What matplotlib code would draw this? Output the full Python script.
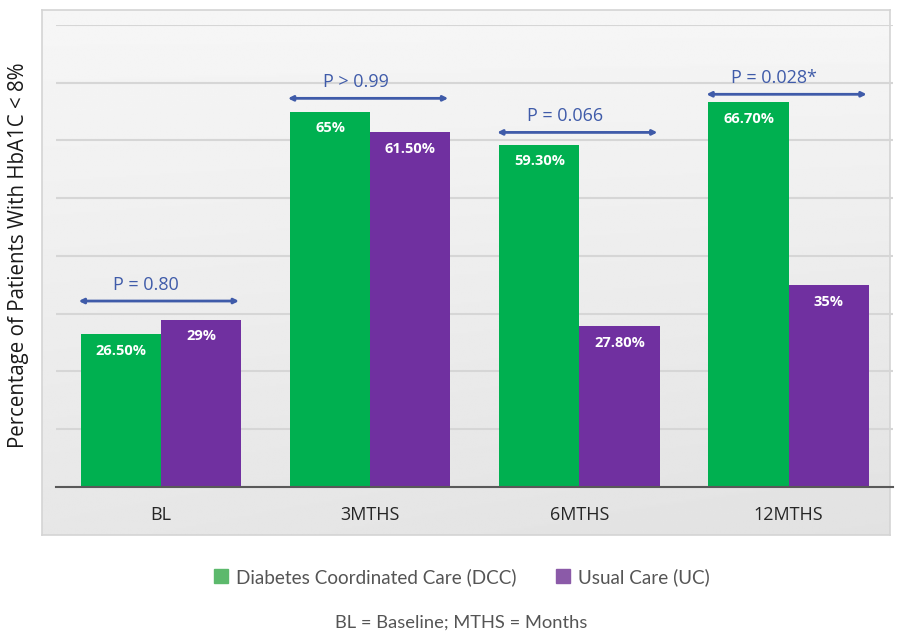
import numpy as np
import matplotlib
matplotlib.use("Agg")
import matplotlib.pyplot as plt
from matplotlib.patches import Patch

# data
categories = ["BL", "3MTHS", "6MTHS", "12MTHS"]
dcc_values = [26.5, 65.0, 59.3, 66.7]
uc_values = [29.0, 61.5, 27.8, 35.0]
dcc_labels = ["26.50%", "65%", "59.30%", "66.70%"]
uc_labels = ["29%", "61.50%", "27.80%", "35%"]
p_texts = ["P = 0.80", "P > 0.99", "P = 0.066", "P = 0.028*"]
p_levels = [32.2, 67.3, 61.4, 68.0]

GREEN = "#00b050"
PURPLE = "#7030a0"
PBLUE = "#3f5ba9"

plt.rcParams["font.family"] = ["Open Sans", "DejaVu Sans"]

fig = plt.figure(figsize=(8.98, 6.33), dpi=100)

# gray panel behind the chart
bg = fig.add_axes([0.0468, 0.1548, 0.944, 0.829])
grad = np.linspace(0, 1, 256)
gx, gy = np.meshgrid(grad, grad)
bg.imshow(0.965 - 0.06 * gy - 0.02 * gx * gy, cmap="gray", vmin=0, vmax=1,
          aspect="auto", extent=[0, 1, 0, 1], origin="upper")
bg.set_xticks([])
bg.set_yticks([])
for s in bg.spines.values():
    s.set_color("#d4d4d4")
    s.set_linewidth(1.2)

ax = fig.add_axes([0.0627, 0.2307, 0.932, 0.7298])
ax.set_facecolor("none")

x = np.arange(len(categories))
w = 0.383
ax.bar(x - w / 2, dcc_values, w, color=GREEN, zorder=3)
ax.bar(x + w / 2, uc_values, w, color=PURPLE, zorder=3)

for i in range(len(categories)):
    ax.text(x[i] - w / 2, dcc_values[i] - 2.9, dcc_labels[i], ha="center", va="center",
            color="white", fontsize=10.5, fontweight="bold", zorder=4)
    ax.text(x[i] + w / 2, uc_values[i] - 2.9, uc_labels[i], ha="center", va="center",
            color="white", fontsize=10.5, fontweight="bold", zorder=4)
    ax.annotate("", xy=(x[i] - w - 0.01, p_levels[i]), xytext=(x[i] + w - 0.01, p_levels[i]),
                arrowprops=dict(arrowstyle="<|-|>", color=PBLUE, lw=2,
                                mutation_scale=7, shrinkA=0, shrinkB=0), zorder=5)
    ax.text(x[i] - 0.07, p_levels[i] + 1.2, p_texts[i], ha="center", va="bottom",
            color=PBLUE, fontsize=13, zorder=5)

ax.set_xlim(-0.5, 3.5)
ax.set_ylim(0, 80)
ax.set_yticks(np.arange(10, 81, 10))
ax.yaxis.grid(True, color="#d6d6d6", lw=1.5, zorder=0)
ax.tick_params(axis="y", length=0, labelleft=False)
ax.tick_params(axis="x", length=0, pad=14, labelsize=13, labelcolor="#262626")
ax.set_xticks(x)
ax.set_xticklabels(categories)
for side in ["top", "right", "left"]:
    ax.spines[side].set_visible(False)
ax.spines["bottom"].set_color("#595959")
ax.spines["bottom"].set_linewidth(1.5)
ax.spines["bottom"].set_zorder(6)

fig.text(0.021, 0.597, "Percentage of Patients With HbA1C < 8%", rotation=90,
         ha="center", va="center", fontsize=14.8, color="#1a1a1a")

handles = [Patch(color="#5cb96c", label="Diabetes Coordinated Care (DCC)"),
           Patch(color="#8b5aa8", label="Usual Care (UC)")]
fig.legend(handles=handles, loc="center", bbox_to_anchor=(0.514, 0.0885), ncol=2,
           frameon=False, handlelength=0.75, handleheight=0.75,
           handletextpad=0.4, columnspacing=2.1, labelcolor="#555555",
           prop={"family": ["Lato", "DejaVu Sans"], "size": 13.6})

fig.text(0.514, 0.016, "BL = Baseline; MTHS = Months", ha="center", va="center",
         fontsize=13.2, color="#555555", family=["Lato", "DejaVu Sans"])

fig.savefig("out.png", dpi=100)
